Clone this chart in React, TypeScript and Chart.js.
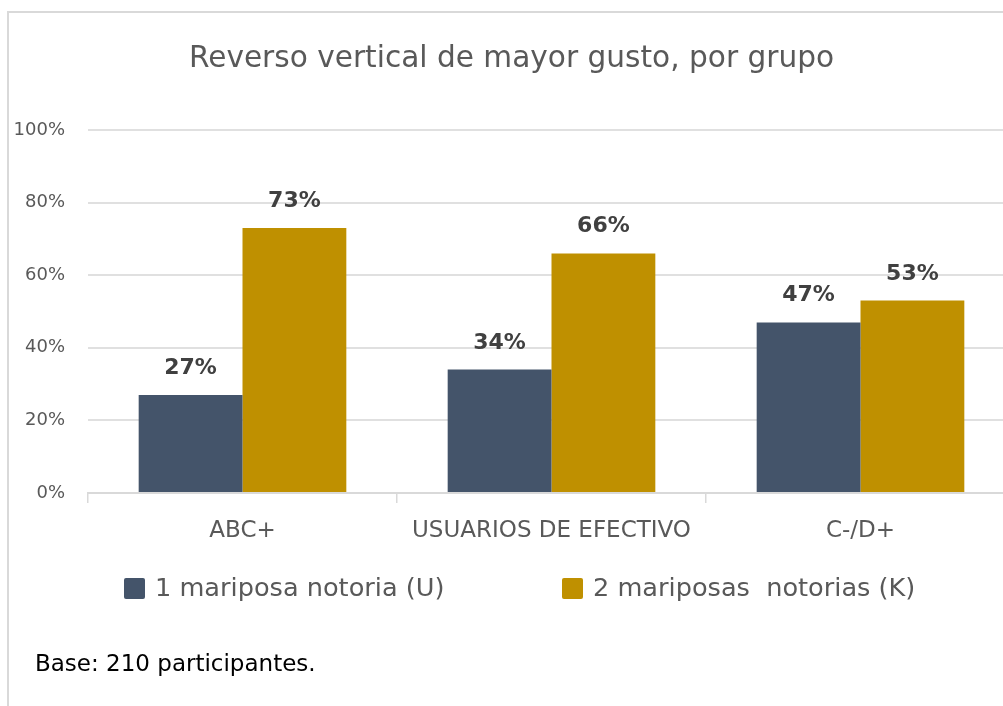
import { useEffect, useRef } from "react";
import { Chart, registerables } from "chart.js";

Chart.register(...registerables);

const titleText = "Reverso vertical de mayor gusto, por grupo";
const categories = ["ABC+", "USUARIOS DE EFECTIVO", "C-/D+"];
const seriesNames = ["1 mariposa notoria (U)", "2 mariposas  notorias (K)"];
const oneButterfly = [27, 34, 47];
const twoButterflies = [73, 66, 53];
const yTickValues = [0, 20, 40, 60, 80, 100];
const footnote = "Base: 210 participantes.";
const seriesColors = ["#44546A", "#BF9000"];

const FONT = "'DejaVu Sans', sans-serif";
const GRAY = "#595959";

const dataLabelPlugin = {
  id: "dataLabels",
  afterDatasetsDraw(chart: any) {
    const ctx = chart.ctx;
    ctx.save();
    ctx.font = `bold 22px ${FONT}`;
    ctx.fillStyle = "#404040";
    ctx.textAlign = "center";
    ctx.textBaseline = "alphabetic";
    chart.data.datasets.forEach((ds: any, i: number) => {
      const meta = chart.getDatasetMeta(i);
      meta.data.forEach((bar: any, j: number) => {
        ctx.fillText(`${ds.data[j]}%`, bar.x, bar.y - 21);
      });
    });
    ctx.restore();
  },
};

const legendFootPlugin = {
  id: "legendFoot",
  afterDraw(chart: any) {
    const ctx = chart.ctx;
    ctx.save();
    const itemX = [124, 562];
    const boxTop = 578;
    const box = 21;
    ctx.font = `25.6px ${FONT}`;
    ctx.textBaseline = "middle";
    ctx.textAlign = "left";
    chart.data.datasets.forEach((ds: any, i: number) => {
      const x = itemX[i];
      ctx.fillStyle = ds.backgroundColor;
      ctx.beginPath();
      if ((ctx as any).roundRect) (ctx as any).roundRect(x, boxTop, box, box, 2);
      else ctx.rect(x, boxTop, box, box);
      ctx.fill();
      ctx.fillStyle = GRAY;
      ctx.fillText(ds.label, x + box + 10, boxTop + box / 2 + 1);
    });
    ctx.font = `23px ${FONT}`;
    ctx.fillStyle = "#000000";
    ctx.textBaseline = "alphabetic";
    ctx.fillText(footnote, 35, 671);
    ctx.restore();
  },
};

export default function App() {
  const canvasRef = useRef<HTMLCanvasElement | null>(null);

  useEffect(() => {
    const canvas = canvasRef.current;
    if (!canvas) return;
    const chart = new Chart(canvas, {
      type: "bar",
      data: {
        labels: categories,
        datasets: [
          {
            label: seriesNames[0],
            data: oneButterfly,
            backgroundColor: seriesColors[0],
            categoryPercentage: 0.672,
            barPercentage: 1,
          },
          {
            label: seriesNames[1],
            data: twoButterflies,
            backgroundColor: seriesColors[1],
            categoryPercentage: 0.672,
            barPercentage: 1,
          },
        ],
      },
      options: {
        responsive: false,
        animation: false,
        layout: { padding: { left: 8, right: 25, top: 0, bottom: 153 } },
        plugins: {
          legend: { display: false },
          tooltip: { enabled: false },
          title: {
            display: true,
            text: titleText,
            color: GRAY,
            font: { family: FONT, size: 29.6, weight: "normal", lineHeight: 1.2 },
            padding: { top: 42, bottom: 52.5 },
          },
        },
        scales: {
          x: {
            afterFit: (scale: any) => {
              scale.height = 60;
            },
            grid: {
              drawOnChartArea: false,
              drawTicks: true,
              tickLength: 10,
              color: "#D9D9D9",
              lineWidth: 1.5,
            },
            border: { display: true, color: "#D9D9D9", width: 2 },
            ticks: {
              color: GRAY,
              font: { family: FONT, size: 23 },
              padding: 14,
              maxRotation: 0,
              autoSkip: false,
            },
          },
          y: {
            min: 0,
            max: 100,
            afterFit: (scale: any) => {
              scale.width = 80;
            },
            afterBuildTicks: (scale: any) => {
              scale.ticks = yTickValues.map((v) => ({ value: v }));
            },
            grid: { color: "#E0E0E0", lineWidth: 2, drawTicks: false },
            border: { display: false },
            ticks: {
              color: GRAY,
              font: { family: FONT, size: 18 },
              padding: 23,
              callback: (v: any) => `${v}%`,
            },
          },
        },
      },
      plugins: [dataLabelPlugin, legendFootPlugin],
    });
    return () => chart.destroy();
  }, []);

  return (
    <div
      style={{
        position: "fixed",
        left: 0,
        top: 0,
        width: 1003,
        height: 706,
        overflow: "hidden",
        background: "#ffffff",
      }}
    >
      <div
        style={{
          position: "absolute",
          left: 7,
          top: 11,
          width: 1100,
          height: 800,
          borderLeft: "2px solid #D9D9D9",
          borderTop: "2px solid #D9D9D9",
        }}
      />
      <canvas
        ref={canvasRef}
        width={1040}
        height={706}
        style={{ position: "absolute", left: 0, top: 0, width: 1040, height: 706 }}
      />
    </div>
  );
}
